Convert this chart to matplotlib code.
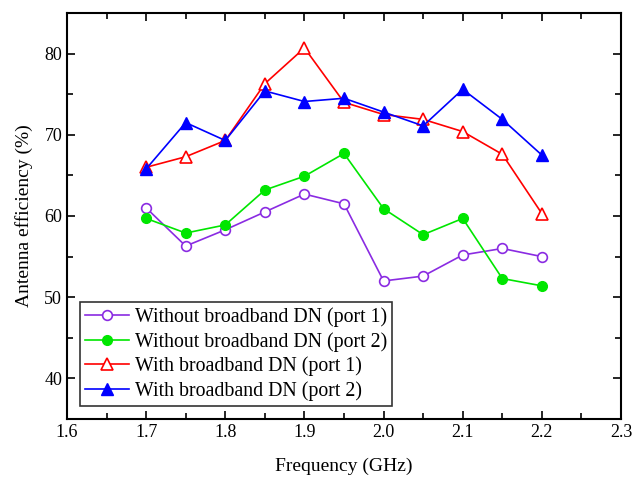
import matplotlib
matplotlib.use("Agg")
import matplotlib.pyplot as plt
from matplotlib.ticker import MultipleLocator

plt.rcParams['font.family'] = ['Liberation Serif', 'DejaVu Serif']
plt.rcParams['mathtext.fontset'] = 'stix'

freq = [1.70, 1.75, 1.80, 1.85, 1.90, 1.95, 2.00, 2.05, 2.10, 2.15, 2.20]
without_p1 = [61.0, 56.3, 58.3, 60.5, 62.7, 61.5, 52.0, 52.6, 55.2, 56.0, 55.0]
without_p2 = [59.7, 57.9, 58.9, 63.2, 64.9, 67.7, 60.9, 57.7, 59.7, 52.3, 51.4]
with_p1 = [66.0, 67.3, 69.3, 76.3, 80.7, 74.0, 72.5, 71.9, 70.4, 67.6, 60.3]
with_p2 = [65.8, 71.5, 69.3, 75.4, 74.1, 74.5, 72.8, 71.1, 75.6, 71.9, 67.5]

labels = ["Without broadband DN (port 1)", "Without broadband DN (port 2)",
          "With broadband DN (port 1)", "With broadband DN (port 2)"]

fig = plt.figure(figsize=(6.33, 4.82), dpi=100)
ax = fig.add_axes([67 / 633, 63 / 482, 554 / 633, 406 / 482])

ax.plot(freq, without_p1, color='#8a2be2', marker='o', ms=7, mfc='white',
        mec='#8a2be2', mew=1.2, lw=1.2, label=labels[0])
ax.plot(freq, without_p2, color='#00e600', marker='o', ms=7, mfc='#00e600',
        mec='#00e600', lw=1.2, label=labels[1])
ax.plot(freq, with_p1, color='red', marker='^', ms=8.5, mfc='white',
        mec='red', mew=1.2, lw=1.2, label=labels[2])
ax.plot(freq, with_p2, color='blue', marker='^', ms=8.5, mfc='blue',
        mec='blue', lw=1.2, label=labels[3])

ax.set_xlim(1.6, 2.3)
ax.set_ylim(35, 85)
ax.xaxis.set_major_locator(MultipleLocator(0.1))
ax.xaxis.set_minor_locator(MultipleLocator(0.05))
ax.yaxis.set_minor_locator(MultipleLocator(5))
ax.set_yticks([40, 50, 60, 70, 80])
ax.xaxis.set_major_formatter(plt.FormatStrFormatter('%.1f'))

ax.tick_params(which='both', direction='in', top=True, right=True,
               labelsize=13, width=1.2)
ax.tick_params(which='major', length=6)
ax.tick_params(which='minor', length=4)
for s in ax.spines.values():
    s.set_linewidth(1.5)

ax.set_xlabel("Frequency (GHz)", fontsize=14, labelpad=12)
ax.set_ylabel("Antenna efficiency (%)", fontsize=14, labelpad=8)

leg = ax.legend(loc='lower left', bbox_to_anchor=(0.024, 0.032), fontsize=14.3,
                frameon=True, fancybox=False, edgecolor='black',
                borderpad=0.25, labelspacing=0.25, handlelength=2.2,
                handletextpad=0.3, borderaxespad=0)
leg.get_frame().set_linewidth(1.2)

fig.savefig("out.png", dpi=100)
